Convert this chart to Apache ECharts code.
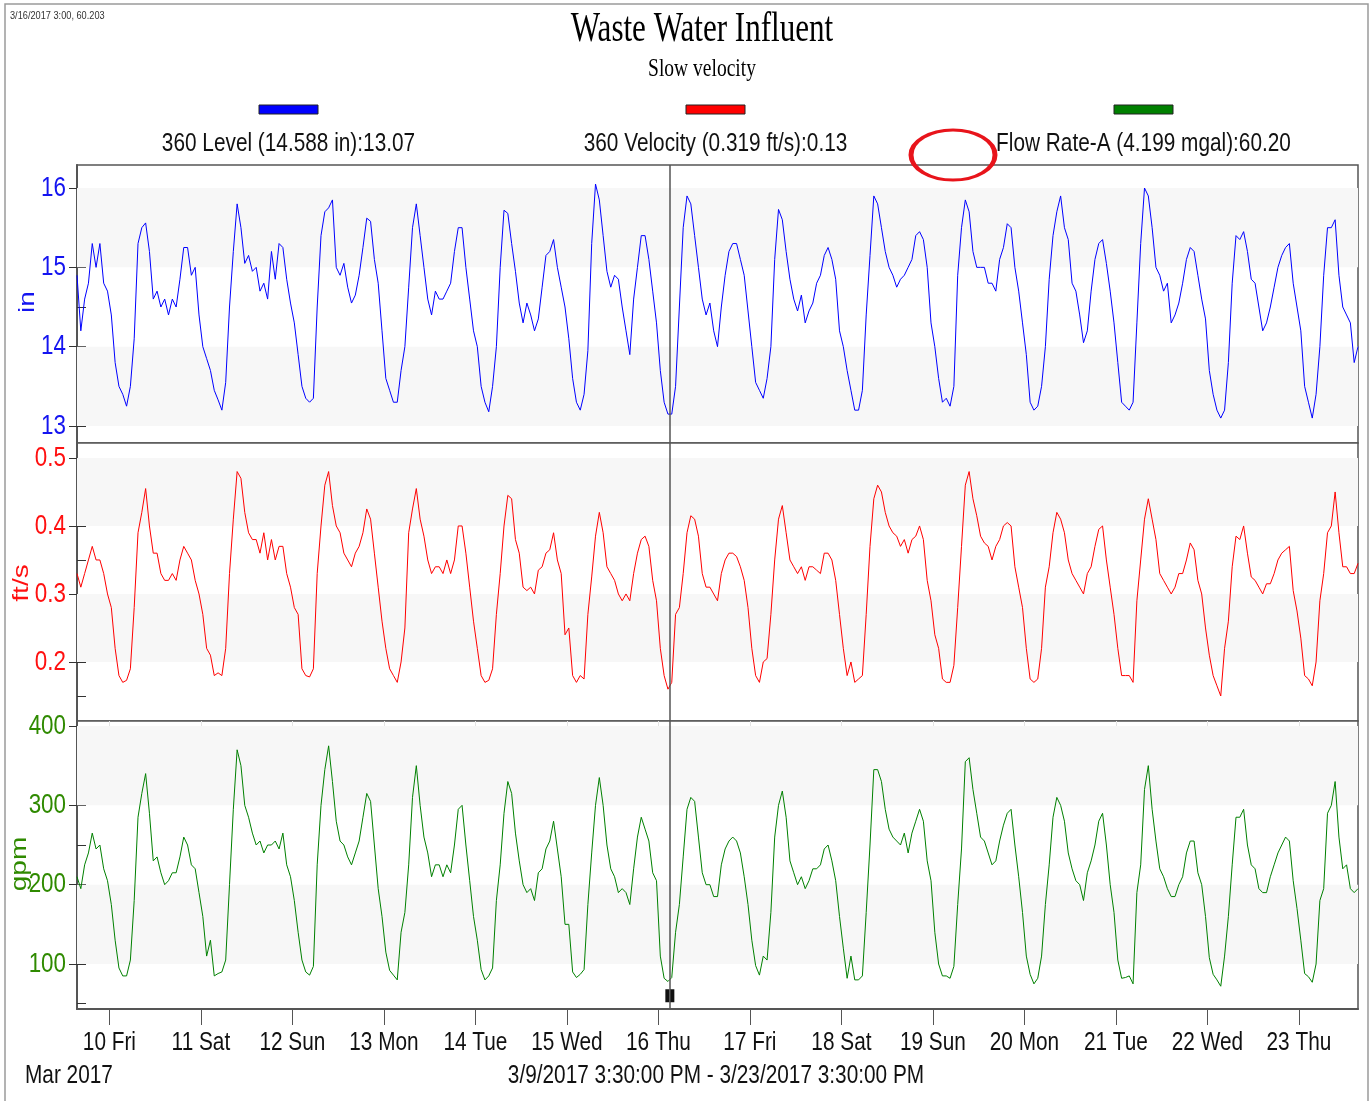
<!DOCTYPE html>
<html><head><meta charset="utf-8">
<script src="https://cdn.jsdelivr.net/npm/echarts@6/dist/echarts.min.js"></script>
<style>html,body{margin:0;padding:0;background:#fff}#c{width:1372px;height:1101px}</style>
</head><body><div id="c"></div>
<script>
// hourly samples from 2017-03-09 15:30 to 2017-03-23 15:30 (337 points)
const level = [
14.9,14.2,14.6,14.8,15.3,15.0,15.3,14.8,14.7,14.4,13.8,13.5,13.4,13.25,13.5,14.1,15.3,15.5,15.56,15.2,14.6,14.7,14.5,14.6,
14.4,14.6,14.5,14.85,15.25,15.25,14.9,15.0,14.4,14.0,13.85,13.7,13.45,13.33,13.2,13.55,14.5,15.2,15.8,15.5,15.05,15.15,14.95,15.0,
14.7,14.8,14.6,15.2,14.85,15.3,15.25,14.85,14.55,14.3,13.9,13.5,13.35,13.3,13.35,14.5,15.4,15.7,15.75,15.85,15.0,14.9,15.05,14.75,
14.55,14.65,14.9,15.25,15.62,15.58,15.1,14.8,14.2,13.6,13.45,13.3,13.3,13.7,14.0,14.75,15.5,15.8,15.4,15.0,14.6,14.4,14.7,14.6,
14.6,14.7,14.8,15.2,15.5,15.5,15.0,14.6,14.2,14.0,13.5,13.3,13.18,13.5,14.0,15.0,15.72,15.68,15.3,14.95,14.55,14.3,14.55,14.4,
14.2,14.35,14.75,15.15,15.2,15.35,15.0,14.75,14.5,14.1,13.6,13.3,13.2,13.4,13.95,15.3,16.05,15.85,15.4,14.95,14.75,14.9,14.85,14.5,
14.2,13.9,14.6,15.0,15.4,15.4,15.1,14.7,14.3,13.7,13.3,13.15,13.15,13.5,14.5,15.5,15.9,15.8,15.4,15.0,14.6,14.4,14.55,14.2,
14.0,14.5,14.9,15.2,15.3,15.3,15.1,14.9,14.45,14.0,13.55,13.45,13.35,13.6,14.0,15.1,15.73,15.6,15.2,14.85,14.6,14.45,14.65,14.3,
14.45,14.55,14.8,14.9,15.15,15.25,15.1,14.85,14.2,14.0,13.7,13.45,13.2,13.2,13.45,14.4,15.15,15.9,15.8,15.5,15.2,15.0,14.9,14.75,
14.85,14.9,15.0,15.1,15.4,15.45,15.35,15.0,14.3,14.0,13.6,13.3,13.35,13.25,13.5,14.9,15.5,15.85,15.7,15.2,15.0,15.0,15.0,14.8,
14.8,14.7,15.1,15.25,15.55,15.5,15.0,14.7,14.3,13.9,13.3,13.2,13.25,13.5,14.0,14.85,15.4,15.7,15.9,15.5,15.35,14.8,14.7,14.4,
14.05,14.2,14.7,15.1,15.3,15.35,15.05,14.7,14.3,13.8,13.3,13.25,13.2,13.3,14.3,15.3,16.0,15.9,15.5,15.0,14.9,14.7,14.8,14.3,
14.4,14.55,14.8,15.1,15.25,15.2,14.9,14.6,14.35,13.7,13.4,13.2,13.1,13.2,13.8,14.8,15.4,15.35,15.45,15.2,14.85,14.8,14.5,14.2,
14.3,14.5,14.75,15.0,15.15,15.25,15.3,14.8,14.5,14.2,13.5,13.3,13.1,13.4,14.0,14.9,15.5,15.5,15.6,14.9,14.5,14.4,14.3,13.8,
14.0];
const velocity = [
0.33,0.31,0.33,0.35,0.37,0.35,0.35,0.33,0.30,0.28,0.22,0.18,0.17,0.173,0.19,0.28,0.39,0.42,0.455,0.40,0.36,0.36,0.33,0.32,
0.32,0.33,0.32,0.35,0.37,0.36,0.35,0.32,0.30,0.27,0.22,0.21,0.18,0.184,0.18,0.22,0.33,0.41,0.48,0.47,0.42,0.39,0.38,0.38,
0.36,0.39,0.35,0.38,0.35,0.37,0.37,0.33,0.31,0.28,0.27,0.19,0.18,0.178,0.19,0.33,0.40,0.46,0.48,0.43,0.40,0.39,0.36,0.35,
0.34,0.36,0.37,0.39,0.425,0.41,0.36,0.31,0.26,0.22,0.19,0.18,0.17,0.20,0.25,0.39,0.425,0.455,0.41,0.385,0.35,0.33,0.34,0.34,
0.33,0.35,0.33,0.35,0.40,0.40,0.36,0.31,0.26,0.22,0.18,0.17,0.173,0.19,0.27,0.33,0.40,0.445,0.44,0.38,0.36,0.31,0.305,0.31,
0.30,0.335,0.34,0.36,0.365,0.39,0.35,0.33,0.24,0.25,0.18,0.17,0.18,0.175,0.27,0.325,0.385,0.42,0.39,0.34,0.33,0.32,0.30,0.29,
0.30,0.29,0.33,0.36,0.38,0.385,0.37,0.32,0.29,0.22,0.18,0.16,0.17,0.27,0.28,0.33,0.39,0.415,0.41,0.385,0.33,0.31,0.31,0.30,
0.29,0.33,0.35,0.36,0.36,0.355,0.34,0.32,0.28,0.22,0.18,0.17,0.20,0.205,0.27,0.35,0.41,0.43,0.39,0.35,0.34,0.33,0.34,0.32,
0.34,0.34,0.335,0.33,0.36,0.36,0.35,0.32,0.27,0.22,0.18,0.20,0.17,0.175,0.18,0.27,0.37,0.44,0.46,0.45,0.42,0.40,0.39,0.385,
0.37,0.38,0.36,0.38,0.385,0.40,0.38,0.32,0.29,0.24,0.22,0.175,0.17,0.17,0.195,0.28,0.37,0.46,0.48,0.44,0.415,0.385,0.375,0.37,
0.35,0.37,0.38,0.40,0.405,0.40,0.34,0.31,0.28,0.22,0.175,0.17,0.175,0.22,0.31,0.34,0.39,0.42,0.41,0.39,0.35,0.33,0.32,0.31,
0.30,0.33,0.34,0.37,0.395,0.40,0.35,0.31,0.27,0.22,0.18,0.18,0.18,0.17,0.29,0.35,0.41,0.44,0.41,0.38,0.33,0.32,0.31,0.30,
0.31,0.33,0.33,0.35,0.375,0.365,0.32,0.30,0.25,0.21,0.18,0.165,0.15,0.22,0.26,0.34,0.385,0.38,0.40,0.36,0.325,0.32,0.31,0.30,
0.315,0.315,0.33,0.35,0.36,0.365,0.37,0.305,0.275,0.235,0.18,0.175,0.165,0.20,0.29,0.33,0.39,0.40,0.45,0.39,0.34,0.34,0.33,0.33,
0.345];
const flow = [
210,195,225,240,265,245,250,220,205,175,130,95,85,85,105,180,285,315,340,290,230,235,215,200,
205,215,215,235,260,250,225,220,190,160,110,130,85,88,90,105,200,295,370,350,300,285,265,250,
255,240,250,250,255,245,265,225,210,180,140,105,90,86,97,225,300,345,375,330,280,255,250,235,
225,240,255,285,315,305,250,195,160,115,92,86,80,140,165,225,310,350,300,260,240,210,225,225,
210,225,215,250,295,300,250,205,160,130,93,80,85,95,180,225,290,330,315,265,230,200,190,195,
180,215,220,245,255,280,245,210,150,150,90,83,87,93,175,240,300,335,300,250,220,210,190,195,
190,175,220,260,285,270,255,215,205,110,82,78,83,140,175,235,295,310,305,260,215,200,200,185,
185,225,245,255,260,255,240,210,175,130,98,86,110,105,165,260,300,318,285,230,215,200,210,195,
205,220,220,225,245,250,230,205,160,120,82,110,80,80,85,165,250,345,345,330,295,270,260,255,
250,265,240,265,280,295,280,230,205,140,100,85,85,82,97,175,245,355,360,320,290,260,255,240,
225,230,255,275,290,295,250,210,165,110,87,75,82,110,175,225,285,310,300,280,240,220,205,200,
180,215,230,250,280,290,250,200,165,105,82,83,85,75,190,225,320,350,295,255,220,210,195,185,
185,200,210,240,255,255,215,200,160,108,87,80,72,110,160,225,285,285,295,250,225,220,195,190,
190,210,225,240,250,260,255,205,170,130,88,84,77,100,180,195,290,300,330,260,220,225,195,190,
195];
const dayLabels = ['10 Fri','11 Sat','12 Sun','13 Mon','14 Tue','15 Wed','16 Thu','17 Fri','18 Sat','19 Sun','20 Mon','21 Tue','22 Wed','23 Thu'];
const levelTicks = [13,14,15,16], levelMinor = [13.5,14.5,15.5];
const velTicks = [0.2,0.3,0.4,0.5], velMinor = [0.15,0.25,0.35,0.45];
const flowTicks = [100,200,300,400], flowMinor = [50,150,250,350];
const levelBands = [[13,14],[15,16]], velBands = [[0.2,0.3],[0.4,0.5]], flowBands = [[100,200],[300,400]];
const legendLabels = ['360 Level (14.588 in):13.07','360 Velocity (0.319 ft/s):0.13','Flow Rate-A (4.199 mgal):60.20'];
const cursorValue = 60;

const START = Date.UTC(2017,2,9,15,30), END = Date.UTC(2017,2,23,15,30);
const CURSOR = Date.UTC(2017,2,16,3,0);
const HOUR = 3600000;
const dayTicks = dayLabels.map((_, k) => Date.UTC(2017,2,10+k,0,0));
const pairs = arr => arr.map((v,i) => [START + i*HOUR, v]);

const SANS = "'Liberation Sans',Arial,sans-serif";
const SERIF = "'Liberation Serif','Times New Roman',serif";
const SQ = 0.8; // horizontal squeeze of the source rendering
const BLUE = '#0000ff', RED = '#ff0000', GREEN = '#008000';
const LBLUE = '#1414f0', LRED = '#ff1010', LGREEN = '#2f8a00';

const GL = 77, GR = 14;
const grids = [
  {left:GL, right:GR, top:165, height:278},
  {left:GL, right:GR, top:443, height:278},
  {left:GL, right:GR, top:721, height:288}
].map(g => Object.assign(g, {show:true, borderColor:'#555', borderWidth:1.5, backgroundColor:'#fff'}));
const AXIS_BOTTOM = 721 + 288;

function hiddenX(gi){
  return {type:'value', gridIndex:gi, min:START, max:END, axisLine:{show:false}, axisTick:{show:false}, axisLabel:{show:false}, splitLine:{show:false}};
}
const xAxes = [hiddenX(0), hiddenX(1),
  {type:'value', gridIndex:2, min:START, max:END,
   axisLine:{show:true, lineStyle:{color:'#555', width:2}},
   axisTick:{show:true, customValues:dayTicks, length:16, lineStyle:{color:'#555', width:1}},
   axisLabel:{show:false}, splitLine:{show:false}},
  {type:'value', gridIndex:2, min:START, max:END, axisLine:{show:false},
   axisTick:{show:true, inside:true, customValues:dayTicks, length:17, lineStyle:{color:'#e4e4e4', width:1}},
   axisLabel:{show:false}, splitLine:{show:false}}
];

function yPair(gi, min, max, ticks, minor){
  return [
    {type:'value', gridIndex:gi, min:min, max:max, position:'left',
     axisLine:{show:true, lineStyle:{color:'#555', width:2}},
     axisTick:{show:true, customValues:ticks, length:8, lineStyle:{color:'#333'}},
     axisLabel:{show:false}, splitLine:{show:false}},
    {type:'value', gridIndex:gi, min:min, max:max, position:'left',
     axisLine:{show:false},
     axisTick:{show:true, inside:true, customValues:ticks.concat(minor), length:9, lineStyle:{color:'#333'}},
     axisLabel:{show:false}, splitLine:{show:false}}
  ];
}
const yAxes = [].concat(
  yPair(0, 12.786, 16.29, levelTicks, levelMinor),
  yPair(1, 0.1132, 0.522, velTicks, velMinor),
  yPair(2, 43.3, 406.3, flowTicks, flowMinor)
);

function bands(b){
  return {silent:true, itemStyle:{color:'#f7f7f7'}, data: b.map(r => [{yAxis:r[0]},{yAxis:r[1]}])};
}
const cursorLine = {silent:true, symbol:['none','none'], label:{show:false}, lineStyle:{color:'#555', width:1.5, type:'solid'}, data:[{xAxis:CURSOR}]};

const series = [
  {type:'line', name:'level', xAxisIndex:0, yAxisIndex:0, data:pairs(level), showSymbol:false, lineStyle:{color:BLUE, width:1}, itemStyle:{color:BLUE}, markArea:bands(levelBands), markLine:cursorLine},
  {type:'line', name:'velocity', xAxisIndex:1, yAxisIndex:2, data:pairs(velocity), showSymbol:false, lineStyle:{color:RED, width:1}, itemStyle:{color:RED}, markArea:bands(velBands), markLine:cursorLine},
  {type:'line', name:'flow', xAxisIndex:2, yAxisIndex:4, data:pairs(flow), showSymbol:false, lineStyle:{color:GREEN, width:1}, itemStyle:{color:GREEN}, markArea:bands(flowBands), markLine:cursorLine,
   markPoint:{silent:true, symbol:'path://M0,0H4V12H0Z M5,0H9V12H5Z', symbolSize:[9,13], itemStyle:{color:'#111'}, label:{show:false}, data:[{coord:[CURSOR, cursorValue]}]}}
];

const chart = echarts.init(document.getElementById('c'), null, {renderer:'canvas'});
chart.setOption({
  animation:false, backgroundColor:'#fff',
  grid:grids, xAxis:xAxes, yAxis:yAxes, series:series
});

// texts (drawn as graphics so that they can be condensed like the source)
function txt(x, y, s, size, color, align, extra){
  return Object.assign({type:'text', x:x, y:y, scaleX:SQ,
    style:{text:s, font:size+'px '+SANS, fill:color, textAlign:align||'left', textVerticalAlign:'middle'}}, extra||{});
}
const graphic = [
  {type:'rect', shape:{x:5, y:4, width:1363, height:1110}, style:{fill:'none', stroke:'#9a9a9a', lineWidth:1.5}, z:-1},
  txt(10, 16, '3/16/2017 3:00, 60.203', 11.5, '#333'),
  {type:'text', x:702, y:30, scaleX:0.74, style:{text:'Waste Water Influent', font:'42px '+SERIF, fill:'#000', textAlign:'center', textVerticalAlign:'middle'}},
  {type:'text', x:702, y:69, scaleX:0.78, style:{text:'Slow velocity', font:'25px '+SERIF, fill:'#000', textAlign:'center', textVerticalAlign:'middle'}},
  {type:'circle', x:953, y:155, scaleY:25/42, shape:{cx:0, cy:0, r:42}, style:{fill:'none', stroke:'#e8141b', lineWidth:5}},
  {type:'text', x:28, y:302, rotation:Math.PI/2, scaleY:SQ, style:{text:'in', font:'28px '+SANS, fill:LBLUE, textAlign:'center', textVerticalAlign:'middle'}},
  {type:'text', x:22, y:583, rotation:Math.PI/2, scaleY:SQ, style:{text:'ft/s', font:'28px '+SANS, fill:LRED, textAlign:'center', textVerticalAlign:'middle'}},
  {type:'text', x:20, y:864, rotation:Math.PI/2, scaleY:SQ, style:{text:'gpm', font:'28px '+SANS, fill:LGREEN, textAlign:'center', textVerticalAlign:'middle'}},
  txt(25, AXIS_BOTTOM + 67, 'Mar 2017', 26, '#111'),
  txt(716, AXIS_BOTTOM + 67, '3/9/2017 3:30:00 PM - 3/23/2017 3:30:00 PM', 26, '#111', 'center')
];
const legendColors = [BLUE, RED, GREEN];
const legendCenters = [288.5, 715.5, 1143.5];
legendLabels.forEach((t, i) => {
  graphic.push({type:'rect', shape:{x:legendCenters[i]-29.5, y:105, width:59, height:9}, style:{fill:legendColors[i], stroke:'#222', lineWidth:1}});
  graphic.push(txt(legendCenters[i], 144, t, 26, '#111', 'center'));
});
// y tick labels placed through the axis scale
function yLabels(axisIdx, ticks, color, fmt){
  ticks.forEach(v => {
    const y = chart.convertToPixel({yAxisIndex:axisIdx}, v);
    graphic.push(txt(GL - 11, y, fmt(v), 28, color, 'right'));
  });
}
yLabels(0, levelTicks, LBLUE, v => String(v));
yLabels(2, velTicks, LRED, v => v.toFixed(1));
yLabels(4, flowTicks, LGREEN, v => String(v));
// x tick labels
dayTicks.forEach((t, k) => {
  const x = chart.convertToPixel({xAxisIndex:2}, t);
  graphic.push(txt(x, AXIS_BOTTOM + 34, dayLabels[k], 26, '#111', 'center'));
});
chart.setOption({graphic:graphic});
</script></body></html>
